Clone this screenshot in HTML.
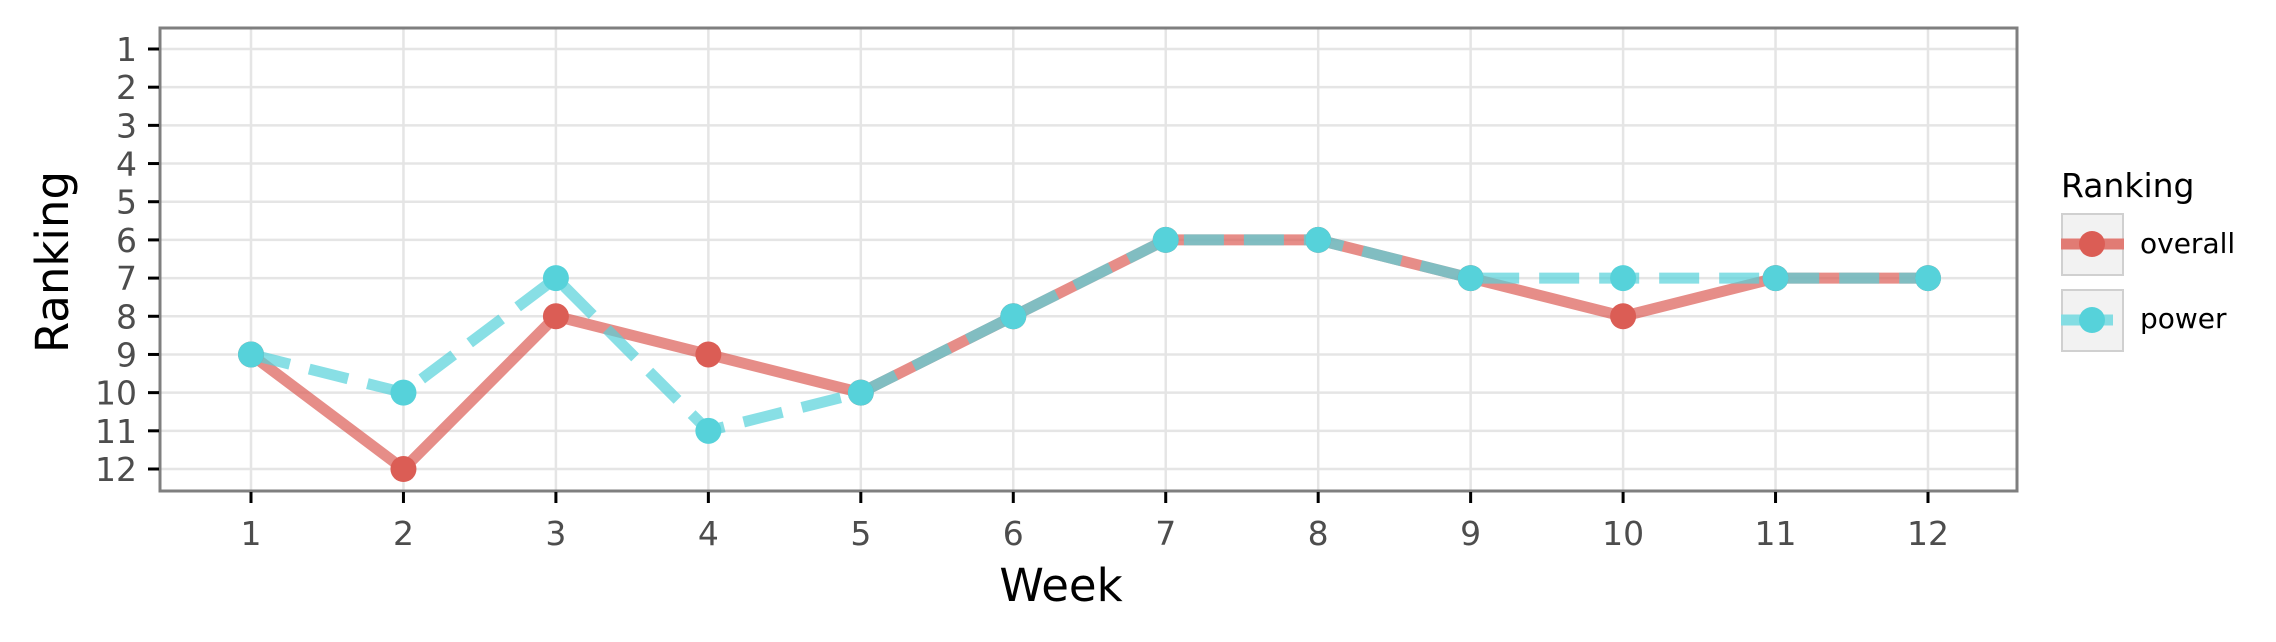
<!DOCTYPE html>
<html><head><meta charset="utf-8"><style>
body{margin:0;background:#fff}
svg{display:block;font-family:"DejaVu Sans","Liberation Sans",sans-serif}
</style></head><body>
<svg id="chart" width="2276" height="642" viewBox="0 0 2276 642">
<g id="grid"></g>
<g id="series"></g>
<rect x="160" y="28" width="1857" height="463" fill="none" stroke="#7f7f7f" stroke-width="3"/>
<g id="axes"></g>
<text x="1061" y="601" font-size="45" text-anchor="middle" fill="#000">Week</text>
<text transform="translate(68,262) rotate(-90)" font-size="45" text-anchor="middle" fill="#000">Ranking</text>
<g>
<text x="2061" y="197" font-size="33" fill="#000">Ranking</text>
<g>
<rect x="2062" y="214" width="61" height="61" fill="#f2f2f2" stroke="#d0d0d0" stroke-width="2"/>
<line x1="2061" y1="244" x2="2124" y2="244" stroke="#e17b74" stroke-width="11"/>
<circle cx="2092" cy="244" r="13" fill="#db5d55"/>
<text x="2140" y="253" font-size="28" fill="#000">overall</text>
</g>
<g>
<rect x="2062" y="290" width="61" height="61" fill="#f2f2f2" stroke="#d0d0d0" stroke-width="2"/>
<line x1="2061" y1="320" x2="2113" y2="320" stroke="#84dde3" stroke-width="11"/>
<circle cx="2092" cy="320" r="13" fill="#56d2da"/>
<text x="2140" y="328" font-size="28" fill="#000">power</text>
</g>
</g>
</svg>
<script>
const weeks=[1,2,3,4,5,6,7,8,9,10,11,12];
const overall=[9,12,8,9,10,8,6,6,7,8,7,7];
const power=[9,10,7,11,10,8,6,6,7,7,7,7];
const yTicks=[1,2,3,4,5,6,7,8,9,10,11,12];
const NS="http://www.w3.org/2000/svg";
const x=w=>251+(w-1)*(1928-251)/11;
const y=r=>49+(r-1)*(469-49)/11;
function mk(t,a,p){const e=document.createElementNS(NS,t);for(const k in a)e.setAttribute(k,a[k]);p.appendChild(e);return e;}
const grid=document.getElementById('grid'),axes=document.getElementById('axes'),ser=document.getElementById('series');
yTicks.forEach(r=>{
 const l=mk('line',{x1:160,x2:2017,y1:y(r),y2:y(r),stroke:'#e5e5e5','stroke-width':2.5},grid);
 
 
 mk('line',{x1:148,x2:159,y1:y(r),y2:y(r),stroke:'#000','stroke-width':3},axes);
 const t=mk('text',{x:137,y:y(r)+12,'font-size':33,'text-anchor':'end',fill:'#4d4d4d'},axes);
 t.textContent=r;
 
 
});
weeks.forEach(w=>{
 const l=mk('line',{x1:x(w),x2:x(w),y1:28,y2:491,stroke:'#e5e5e5','stroke-width':2.5},grid);
 
 
 mk('line',{x1:x(w),x2:x(w),y1:492,y2:503,stroke:'#000','stroke-width':3},axes);
 const t=mk('text',{x:x(w),y:545,'font-size':33,'text-anchor':'middle',fill:'#4d4d4d'},axes);
 t.textContent=w;
 
 
});
function pts(v){return weeks.map((w,i)=>x(w)+','+y(v[i])).join(' ');}
const lo=mk('polyline',{points:pts(overall),fill:'none',stroke:'#db5d55','stroke-opacity':0.7,'stroke-width':11},ser);


const lp=mk('polyline',{points:pts(power),fill:'none',stroke:'#56d2da','stroke-opacity':0.7,'stroke-width':11,'stroke-dasharray':'40 20'},ser);


weeks.forEach((w,i)=>{
 const c=mk('circle',{cx:x(w),cy:y(overall[i]),r:13,fill:'#db5d55'},ser);
 
 
});
weeks.forEach((w,i)=>{
 const c=mk('circle',{cx:x(w),cy:y(power[i]),r:13,fill:'#56d2da'},ser);
 
 
});
</script>
</body></html>
